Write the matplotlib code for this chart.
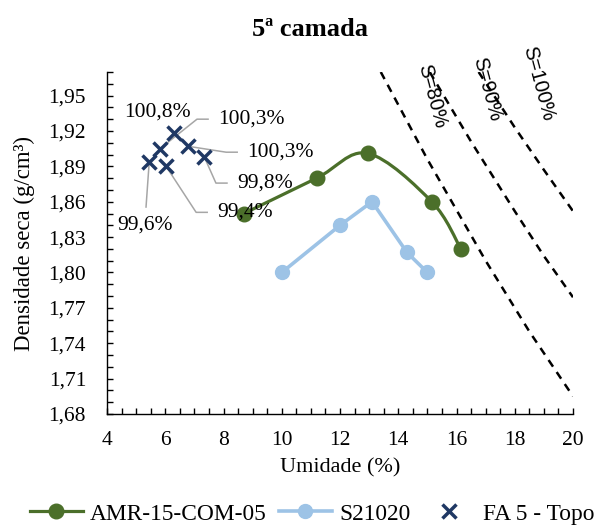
import numpy as np
import matplotlib
matplotlib.use("Agg")
import matplotlib.pyplot as plt
from matplotlib.path import Path
from matplotlib.patches import PathPatch
from matplotlib.lines import Line2D
from matplotlib.ticker import MultipleLocator, FuncFormatter

plt.rcParams['font.family'] = ['Liberation Serif', 'DejaVu Serif']

# Curvas de compactação
amr_umidade = [8.7, 11.2, 12.95, 15.15, 16.15]
amr_densidade = [1.850, 1.880, 1.901, 1.860, 1.820]

s21_umidade = [10.0, 12.0, 13.1, 14.3, 15.0]
s21_densidade = [1.800, 1.840, 1.860, 1.817, 1.800]

# Ensaios de campo FA 5 - Topo (grau de compactação)
fa5_umidade = [5.45, 5.82, 6.30, 6.79, 7.34, 6.03]
fa5_densidade = [1.894, 1.905, 1.918, 1.907, 1.898, 1.890]
fa5_gc = ['99,6%', '100,3%', '100,8%', '100,3%', '99,8%', '99,4%']

# Curvas de saturação
sat_nomes = ['S=80%', 'S=90%', 'S=100%']
sat_umidade = [[13.4, 15.0, 17.0, 18.5, 20.0],
               [15.08, 16.5, 18.0, 19.0, 20.0],
               [16.76, 18.0, 19.0, 20.0]]
sat_densidade = [[1.970, 1.896, 1.810, 1.750, 1.695],
                 [1.970, 1.911, 1.852, 1.814, 1.779],
                 [1.970, 1.923, 1.887, 1.852]]

cor_amr = '#4b6f2a'
cor_s21 = '#9dc3e6'
cor_fa5 = '#1f3864'
cor_chamada = '#a6a6a6'


def curva_suave(x, y):
    # spline tipo Catmull-Rom em Bezier, como a linha suavizada do Excel
    pts = np.column_stack([x, y])
    verts = [pts[0]]
    codes = [Path.MOVETO]
    for i in range(len(pts) - 1):
        p0 = pts[i - 1] if i > 0 else pts[i]
        p1, p2 = pts[i], pts[i + 1]
        p3 = pts[i + 2] if i + 2 < len(pts) else pts[i + 1]
        verts += [p1 + (p2 - p0) / 6, p2 - (p3 - p1) / 6, p2]
        codes += [Path.CURVE4] * 3
    return Path(verts, codes)


fig = plt.figure(figsize=(5.97, 5.29), dpi=100)
ax = fig.add_axes([107 / 597, 1 - 414 / 529, 466 / 597, 342 / 529])

ax.set_xlim(4, 20)
ax.set_ylim(1.68, 1.97)
ax.xaxis.set_major_locator(MultipleLocator(2))
ax.xaxis.set_minor_locator(MultipleLocator(0.5))
ax.yaxis.set_major_locator(MultipleLocator(0.03))
ax.yaxis.set_minor_locator(MultipleLocator(0.01))
ax.yaxis.set_major_formatter(FuncFormatter(lambda v, p: f'{v:.2f}'.replace('.', ',')))
ax.tick_params(which='both', direction='in', length=4, width=1, labelsize=15.5)
ax.tick_params(axis='x', pad=12)
ax.tick_params(axis='y', pad=15)
for lado in ['top', 'right']:
    ax.spines[lado].set_visible(False)
for lado in ['left', 'bottom']:
    ax.spines[lado].set_linewidth(1)

# saturação
for xs, ys in zip(sat_umidade, sat_densidade):
    ax.plot(xs, ys, color='black', lw=1.8, dashes=(3.2, 2.6), zorder=2)
sat_txt_pos = [(15.16, 1.9495), (17.05, 1.9554), (18.80, 1.9605)]
for nome, (tx, ty) in zip(sat_nomes, sat_txt_pos):
    ax.text(tx, ty, nome, rotation=-75, ha='center', va='center',
            fontsize=14.5, family=['Liberation Sans', 'DejaVu Sans'], zorder=5)

# AMR-15-COM-05 (linha suavizada)
ax.add_patch(PathPatch(curva_suave(amr_umidade, amr_densidade), facecolor='none',
                       edgecolor=cor_amr, lw=2.3, zorder=3))
ax.plot(amr_umidade, amr_densidade, 'o', color=cor_amr, ms=10.5, zorder=4)

# S21020
ax.plot(s21_umidade, s21_densidade, '-o', color=cor_s21, lw=2.6, ms=10, zorder=3)

# FA 5 - Topo
ax.plot(fa5_umidade, fa5_densidade, 'x', color=cor_fa5, ms=10, mew=2.5, ls='none', zorder=4)

# rótulos: 'esq' = texto à direita com chamada em cotovelo, 'baixo' = texto abaixo
rot_pos = [(5.30, 1.840), (7.81, 1.930), (5.72, 1.936), (8.81, 1.902), (8.46, 1.8758), (7.78, 1.851)]
rot_tipo = ['baixo', 'esq', None, 'esq', 'esq', 'esq']
braco, folga = 0.38, 0.34
for xv, yv, txt, (tx, ty), tipo in zip(fa5_umidade, fa5_densidade, fa5_gc, rot_pos, rot_tipo):
    if tipo == 'esq':
        ax.text(tx, ty, txt, ha='left', va='center', fontsize=15.5, zorder=5)
        cx = tx - folga - braco
        ax.plot([xv, cx, cx + braco], [yv, ty, ty], color=cor_chamada, lw=1.1, zorder=1)
    elif tipo == 'baixo':
        ax.text(tx, ty, txt, ha='center', va='center', fontsize=15.5, zorder=5)
        ax.plot([xv, tx + 0.04], [yv, ty + 0.0155], color=cor_chamada, lw=1.1, zorder=1)
    else:
        ax.text(tx, ty, txt, ha='center', va='center', fontsize=15.5, zorder=5)

ax.set_xlabel('Umidade (%)', fontsize=16, labelpad=6)
ax.set_ylabel('Densidade seca (g/cm³)', fontsize=16.5, labelpad=10)
fig.text(310 / 597, 1 - 30 / 529, '5ª camada', ha='center', va='center',
         fontsize=19, fontweight='bold')

handles = [
    Line2D([], [], color=cor_amr, lw=2.3, marker='o', ms=10.5),
    Line2D([], [], color=cor_s21, lw=2.6, marker='o', ms=10),
    Line2D([], [], color=cor_fa5, ls='none', marker='x', ms=10, mew=2.5),
]
fig.legend(handles, ['AMR-15-COM-05', 'S21020', 'FA 5 - Topo'], loc='center',
           bbox_to_anchor=(312 / 597, 1 - 514 / 529), ncol=3, frameon=False,
           fontsize=16.8, handlelength=2.3, handletextpad=0.3, columnspacing=0.5,
           borderaxespad=0, borderpad=0)

fig.savefig('out.png', dpi=100)
